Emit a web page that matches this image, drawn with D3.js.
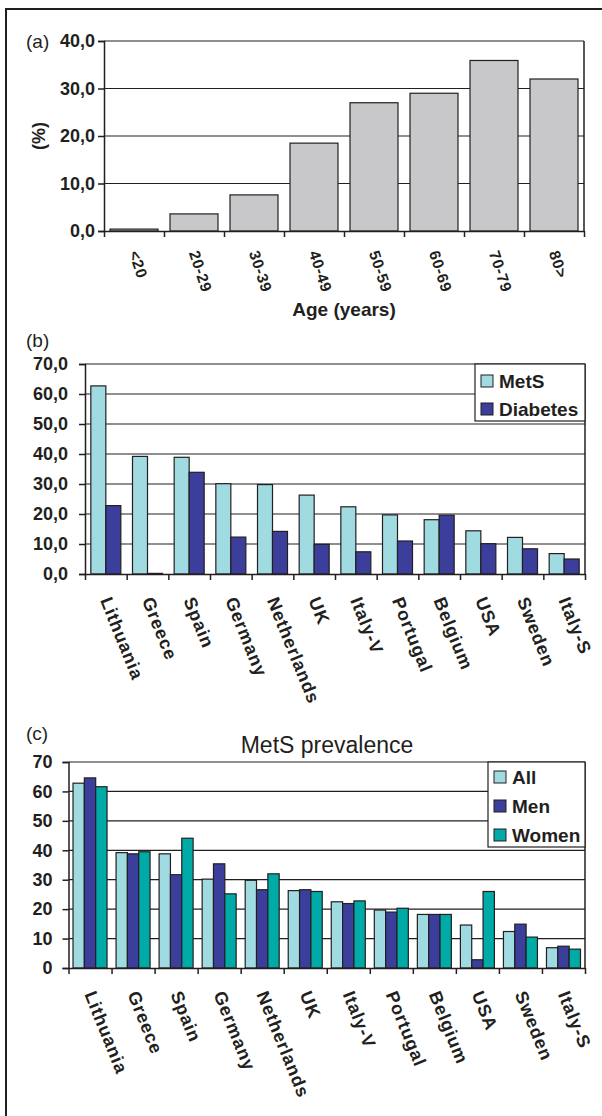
<!DOCTYPE html>
<html>
<head>
<meta charset="utf-8">
<script src="https://cdn.jsdelivr.net/npm/d3@7"></script>
<style>
  body { margin: 0; background: #fff; }
  svg { display: block; font-family: "Liberation Sans", Arial, sans-serif; }
</style>
</head>
<body>
<main></main>
<script>
// panel (a): MetS prevalence by age group
const ageGroups = ['<20', '20-29', '30-39', '40-49', '50-59', '60-69', '70-79', '80>'];
const ageValues = [0.4, 3.6, 7.6, 18.5, 27.0, 29.0, 35.9, 32.0];
const ageTicks = [0, 10, 20, 30, 40];

// panel (b): MetS vs diabetes by country
const countries = ['Lithuania', 'Greece', 'Spain', 'Germany', 'Netherlands', 'UK',
                   'Italy-V', 'Portugal', 'Belgium', 'USA', 'Sweden', 'Italy-S'];
const metsValues = [62.7, 39.2, 38.9, 30.1, 29.8, 26.3, 22.4, 19.7, 18.1, 14.4, 12.2, 6.8];
const diabetesValues = [22.8, 0.2, 33.9, 12.3, 14.2, 9.9, 7.4, 11.0, 19.6, 10.1, 8.4, 5.0];
const countryTicks = [0, 10, 20, 30, 40, 50, 60, 70];

// panel (c): MetS prevalence, all / men / women
const allValues = [62.8, 39.2, 38.8, 30.2, 29.8, 26.3, 22.5, 19.7, 18.2, 14.6, 12.4, 6.9];
const menValues = [64.6, 38.8, 31.7, 35.4, 26.6, 26.6, 21.9, 19.0, 18.2, 2.8, 14.9, 7.4];
const womenValues = [61.6, 39.5, 44.1, 25.2, 32.0, 26.0, 22.8, 20.3, 18.2, 26.0, 10.5, 6.4];

const LIGHT = '#9fdbe1';
const DARK = '#3b3f9b';
const TEAL = '#00aaa6';
const GREY = '#c8c8ca';
const INK = '#231f20';

const svg = d3.select('main')
  .append('svg')
  .attr('width', 602)
  .attr('height', 1116);

// figure frame (only left and top edges show)
svg.append('path')
  .attr('d', 'M6,1116 V9 H602')
  .attr('fill', 'none')
  .attr('stroke', INK)
  .attr('stroke-width', 2);

/**
 * Draw one grouped bar panel
 * @param cfg
 */
function draw_panel(cfg) {
  const g = svg.append('g');
  const x0 = cfg.x0, x1 = cfg.x1, y0 = cfg.y0, y1 = cfg.y1;

  const y = d3.scaleLinear().domain([0, cfg.ymax]).range([y1, y0]);
  const x = d3.scaleBand()
    .domain(cfg.categories)
    .range([x0, x1])
    .paddingInner(cfg.pad)
    .paddingOuter(cfg.pad / 2);
  const xs = d3.scaleBand()
    .domain(cfg.series.map(function (s) { return s.name; }))
    .range([0, x.bandwidth()]);

  // gridlines
  g.selectAll('line.grid')
    .data(cfg.ticks.slice(1))
    .enter()
    .append('line')
    .attr('x1', x0).attr('x2', x1)
    .attr('y1', function (d) { return y(d); })
    .attr('y2', function (d) { return y(d); })
    .attr('stroke', INK)
    .attr('stroke-width', 1.2);

  // right frame edge
  g.append('line')
    .attr('x1', x1).attr('x2', x1)
    .attr('y1', y0).attr('y2', y1)
    .attr('stroke', INK)
    .attr('stroke-width', 1.5);

  // bars
  cfg.series.forEach(function (s) {
    g.selectAll(null)
      .data(s.values)
      .enter()
      .append('rect')
      .attr('x', function (d, i) { return x(cfg.categories[i]) + xs(s.name); })
      .attr('y', function (d) { return y(d); })
      .attr('width', xs.bandwidth())
      .attr('height', function (d) { return y1 - y(d); })
      .attr('fill', s.color)
      .attr('stroke', INK)
      .attr('stroke-width', 1.2);
  });

  // y axis
  const yAxis = g.append('g')
    .attr('transform', 'translate(' + x0 + ',0)')
    .call(d3.axisLeft(y).tickValues(cfg.ticks).tickSize(6).tickPadding(cfg.tickPad).tickFormat(cfg.fmt));
  yAxis.select('.domain').attr('stroke', INK).attr('stroke-width', 1.5);
  yAxis.selectAll('.tick line').attr('stroke', INK).attr('stroke-width', 1.5);
  yAxis.selectAll('text')
    .attr('fill', INK)
    .style('font-size', '18px')
    .style('font-weight', 'bold');

  // x axis, ticks at category boundaries
  const xb = d3.scaleLinear().domain([0, cfg.categories.length]).range([x0, x1]);
  const xAxis = g.append('g')
    .attr('transform', 'translate(0,' + y1 + ')')
    .call(d3.axisBottom(xb).tickValues(d3.range(cfg.categories.length + 1)).tickSize(6).tickSizeOuter(0).tickFormat(''));
  xAxis.select('.domain').attr('stroke', INK).attr('stroke-width', 1.5);
  xAxis.selectAll('.tick line').attr('stroke', INK).attr('stroke-width', 1.5);

  // category labels
  g.selectAll('text.cat')
    .data(cfg.categories)
    .enter()
    .append('text')
    .attr('class', 'cat')
    .attr('transform', function (d) {
      return 'translate(' + (x(d) + x.bandwidth() / 2) + ',' + (y1 + cfg.labelGap) + ') rotate(' + cfg.angle + ')';
    })
    .attr('dy', '0.35em')
    .attr('fill', INK)
    .style('font-size', cfg.labelFont + 'px')
    .style('font-weight', 'bold')
    .style('letter-spacing', cfg.spacing + 'px')
    .text(function (d) { return d; });

  // panel letter
  g.append('text')
    .attr('x', 26).attr('y', cfg.letterY)
    .attr('fill', INK)
    .style('font-size', '19px')
    .text(cfg.letter);

  // legend
  if (cfg.legend) {
    const L = cfg.legend;
    g.append('rect')
      .attr('x', L.x).attr('y', L.y)
      .attr('width', L.w).attr('height', L.h)
      .attr('fill', '#fff')
      .attr('stroke', INK)
      .attr('stroke-width', 1.2);
    const item = g.selectAll('g.leg')
      .data(cfg.series)
      .enter()
      .append('g')
      .attr('transform', function (d, i) {
        return 'translate(' + (L.x + 6) + ',' + (L.y + L.first + i * L.step) + ')';
      });
    item.append('rect')
      .attr('x', 0).attr('y', -6)
      .attr('width', 12).attr('height', 12)
      .attr('fill', function (d) { return d.color; })
      .attr('stroke', INK)
      .attr('stroke-width', 1);
    item.append('text')
      .attr('x', 18)
      .attr('dy', '0.36em')
      .attr('fill', INK)
      .style('font-size', '19px')
      .style('font-weight', 'bold')
      .text(function (d) { return d.name; });
  }
  return g;
}

const commaFmt = function (d) { return d3.format('.1f')(d).replace('.', ','); };

draw_panel({
  categories: ageGroups,
  series: [{name: 'Age', values: ageValues, color: GREY}],
  ymax: 40, ticks: ageTicks, fmt: commaFmt,
  x0: 104, x1: 584, y0: 41, y1: 231, pad: 0.2,
  tickPad: 3, labelFont: 15.5, labelGap: 20, angle: 72, spacing: 0.6,
  letter: '(a)', letterY: 48
});
svg.append('text')
  .attr('x', 344).attr('y', 316)
  .attr('text-anchor', 'middle')
  .attr('fill', INK)
  .style('font-size', '19px')
  .style('font-weight', 'bold')
  .text('Age (years)');
svg.append('text')
  .attr('transform', 'translate(45,136) rotate(-90)')
  .attr('text-anchor', 'middle')
  .attr('fill', INK)
  .style('font-size', '18px')
  .style('font-weight', 'bold')
  .text('(%)');

draw_panel({
  categories: countries,
  series: [{name: 'MetS', values: metsValues, color: LIGHT},
           {name: 'Diabetes', values: diabetesValues, color: DARK}],
  ymax: 70, ticks: countryTicks, fmt: commaFmt,
  x0: 85, x1: 585, y0: 364, y1: 574, pad: 0.28,
  tickPad: 11, labelFont: 18, labelGap: 24, angle: 68, spacing: 0.8,
  letter: '(b)', letterY: 347,
  legend: {x: 475, y: 364, w: 110, h: 57, first: 17, step: 28}
});

draw_panel({
  categories: countries,
  series: [{name: 'All', values: allValues, color: LIGHT},
           {name: 'Men', values: menValues, color: DARK},
           {name: 'Women', values: womenValues, color: TEAL}],
  ymax: 70, ticks: countryTicks, fmt: d3.format('d'),
  x0: 68.5, x1: 585, y0: 762, y1: 968, pad: 0.21,
  tickPad: 10, labelFont: 18, labelGap: 24, angle: 68, spacing: 0.8,
  letter: '(c)', letterY: 740,
  legend: {x: 488, y: 762, w: 97, h: 85, first: 15, step: 29}
});

svg.append('text')
  .attr('x', 327).attr('y', 753)
  .attr('text-anchor', 'middle')
  .attr('fill', INK)
  .style('font-size', '23px')
  .text('MetS prevalence');
</script>
</body>
</html>
